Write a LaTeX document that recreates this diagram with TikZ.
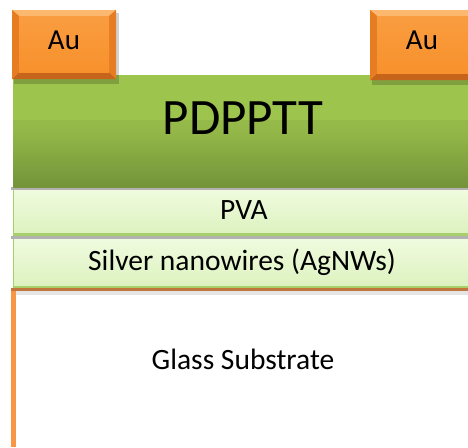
\documentclass[tikz,border=0pt]{standalone}
\usepackage{fontspec}
\setmainfont{Carlito}
\definecolor{auface}{HTML}{F8912C}
\definecolor{aulight}{HTML}{FCB86E}
\definecolor{audark}{HTML}{C6641B}
\definecolor{auside}{HTML}{E67D22}
\definecolor{greentop}{HTML}{9DC44D}
\definecolor{greenmid}{HTML}{93B848}
\definecolor{greenbot}{HTML}{74933A}
\definecolor{paletop}{HTML}{F0FBDF}
\definecolor{palebot}{HTML}{DCF2BE}
\definecolor{paleedge}{HTML}{A8D06A}
\definecolor{glassedge}{HTML}{F79646}
\definecolor{glasstop}{HTML}{C0763C}
\tikzset{
  layerlabel/.style={font=\fontsize{29.5}{34}\selectfont, text=black, inner sep=0pt},
  aulabel/.style={font=\fontsize{29}{34}\selectfont, text=black, inner sep=0pt},
  softshadow/.style={fill=black, opacity=0.18},
}
% bevelled electrode: #1,#2 top-left corner, #3,#4 bottom-right corner
\newcommand\electrode[4]{%
  \fill[softshadow] (#1+2,#2+3) rectangle (#3+3,#4+5);
  \fill[auface] (#1,#2) rectangle (#3,#4);
  \fill[aulight] (#1,#2) -- (#3,#2) -- (#3-7,#2+6) -- (#1+7,#2+6) -- cycle;
  \fill[audark] (#1,#4) -- (#3,#4) -- (#3-7,#4-7) -- (#1+7,#4-7) -- cycle;
  \fill[auside] (#1,#2) -- (#1+7,#2+6) -- (#1+7,#4-7) -- (#1,#4) -- cycle;
  \fill[auside] (#3,#2) -- (#3-7,#2+6) -- (#3-7,#4-7) -- (#3,#4) -- cycle;
  \fill[top color=auface!70!aulight, bottom color=auface] (#1+7,#2+6) rectangle (#3-7,#4-7);
}
\begin{document}
\begin{tikzpicture}[x=1pt,y=-1pt]
\useasboundingbox (0,0) rectangle (468,447);
\clip (0,0) rectangle (468,447);

% glass substrate with orange outline
\fill[white] (13,289) rectangle (470,447);
\fill[glassedge] (11,289) rectangle (16,447);
\fill[glasstop] (11,288) rectangle (470,291);
\fill[black, opacity=0.10] (16,291) rectangle (470,295);
\node[layerlabel] (glass) at (243,359) {Glass Substrate};

% silver nanowire layer
\fill[black, opacity=0.30] (11,236) rectangle (470,239);
\fill[top color=paletop, bottom color=palebot] (13,239) rectangle (470,287);
\fill[paleedge] (13,286) rectangle (470,288);
\draw[paleedge, line width=0.8pt] (13.5,239) -- (13.5,288);
\node[layerlabel] (agnw) at (242,262) {Silver nanowires (AgNWs)};

% PVA layer
\fill[black, opacity=0.30] (11,187) rectangle (470,190);
\fill[top color=paletop, bottom color=palebot] (13,190) rectangle (470,234);
\fill[paleedge] (13,233) rectangle (470,236);
\draw[paleedge, line width=0.8pt] (13.5,190) -- (13.5,236);
\node[layerlabel] (pva) at (244,210) {PVA};

% PDPPTT semiconductor layer
\shade[top color=greentop, bottom color=greenbot, middle color=greenmid] (13,75) rectangle (470,187);
\fill[greentop] (13,75) rectangle (470,120);
\node[font=\fontsize{51}{58}\selectfont, inner sep=0pt] (pdpptt) at (243,118) {PDPPTT};

% gold source and drain contacts
\electrode{12}{10}{116}{79}
\node[aulabel] (auleft) at (64,40) {Au};
\electrode{370}{10}{480}{80}
\node[aulabel] (auright) at (422,40) {Au};
\end{tikzpicture}
\end{document}
